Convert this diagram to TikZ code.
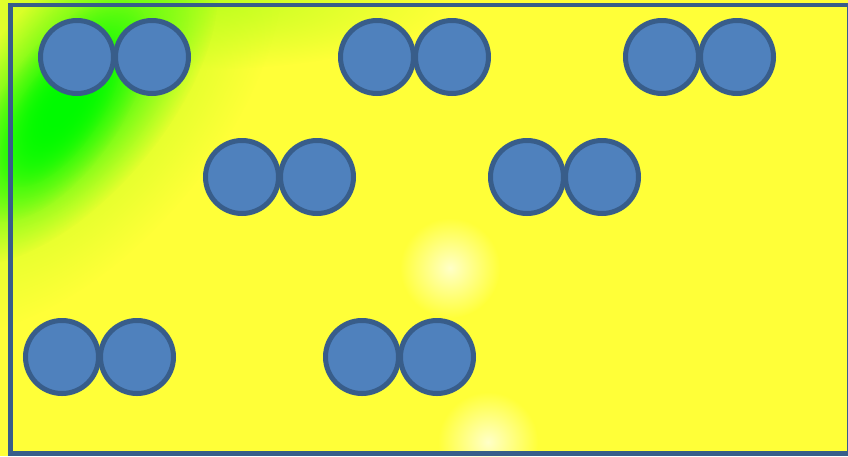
\documentclass[tikz,border=0pt]{standalone}
\usepackage{xcolor}
\usepackage{tikz}
\usetikzlibrary{positioning, fadings}

\definecolor{fieldyellow}{RGB}{255,255,56}
\definecolor{fieldgreen}{RGB}{0,250,0}
\definecolor{fieldlime}{RGB}{190,255,30}
\definecolor{fieldlight}{RGB}{255,255,200}
\definecolor{discfill}{RGB}{79,129,189}
\definecolor{discline}{RGB}{56,93,138}

\tikzfading[name=softspot, inner color=transparent!0, outer color=transparent!100]

\tikzset{
  disc/.style={circle, draw=discline, fill=discfill, line width=5pt, minimum size=73pt, inner sep=0pt},
  frame/.style={draw=discline, line width=4.5pt},
  spot/.style={path fading=softspot},
}

\begin{document}
\begin{tikzpicture}[x=1pt, y=-1pt]
			% Field and frame:
			\clip (0, 0) rectangle (848, 456);
			\fill[fieldyellow] (0, 0) rectangle (848, 456);
			\fill[fieldlime, spot] (190, 0) ellipse (260 and 70);
			\begin{scope}[transform canvas={shift={(70, 100)}, rotate=50}]
				\fill[fieldlime, spot] (0, 0) ellipse (280 and 150);
				\fill[fieldgreen, spot] (0, 0) ellipse (200 and 95);
			\end{scope}
			\begin{scope}[transform canvas={shift={(60, 110)}, rotate=55}]
				\fill[fieldgreen, spot] (0, 0) ellipse (130 and 60);
				\fill[fieldgreen, spot] (0, 0) ellipse (90 and 40);
			\end{scope}
			\fill[fieldlight, spot] (450, 268) circle (50);
			\fill[fieldlight, spot] (488, 442) circle (50);
			\draw[frame] (10.5, 5) rectangle (849.5, 453.5);
			% Discs:
			\node[disc](D1) at (77, 57){};
			\node[disc](D2) at (152, 57){};
			\node[disc](D3) at (377, 57){};
			\node[disc](D4) at (452, 57){};
			\node[disc](D5) at (662, 57){};
			\node[disc](D6) at (737, 57){};
			\node[disc](D7) at (242, 177){};
			\node[disc](D8) at (317, 177){};
			\node[disc](D9) at (527, 177){};
			\node[disc](D10) at (602, 177){};
			\node[disc](D11) at (62, 357){};
			\node[disc](D12) at (137, 357){};
			\node[disc](D13) at (362, 357){};
			\node[disc](D14) at (437, 357){};
		\end{tikzpicture}
\end{document}
